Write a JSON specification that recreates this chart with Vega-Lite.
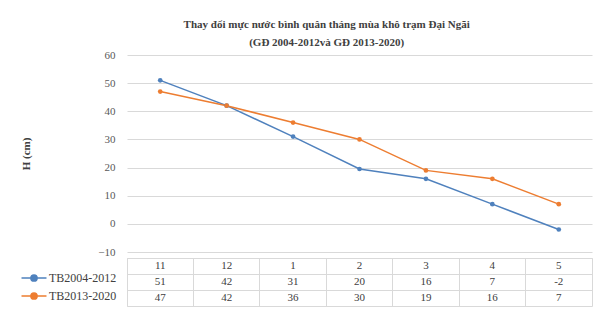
{
  "$schema": "https://vega.github.io/schema/vega-lite/v6.json",
  "background": "white",
  "padding": {"left": 20, "top": 19, "right": 8, "bottom": 5},
  "title": {
    "text": ["Thay đổi mực nước bình quân tháng mùa khô trạm Đại Ngãi", "(GĐ 2004-2012và GĐ 2013-2020)"],
    "font": "Liberation Serif",
    "fontSize": 11,
    "fontWeight": "bold",
    "color": "#404040",
    "anchor": "middle",
    "lineHeight": 18,
    "offset": 1,
    "dx": 20
  },
  "datasets": {
    "series": [
      {"month": "11", "series": "TB2004-2012", "value": 51},
      {"month": "12", "series": "TB2004-2012", "value": 42},
      {"month": "1", "series": "TB2004-2012", "value": 31},
      {"month": "2", "series": "TB2004-2012", "value": 19.5},
      {"month": "3", "series": "TB2004-2012", "value": 16},
      {"month": "4", "series": "TB2004-2012", "value": 7},
      {"month": "5", "series": "TB2004-2012", "value": -2},
      {"month": "11", "series": "TB2013-2020", "value": 47},
      {"month": "12", "series": "TB2013-2020", "value": 42},
      {"month": "1", "series": "TB2013-2020", "value": 36},
      {"month": "2", "series": "TB2013-2020", "value": 30},
      {"month": "3", "series": "TB2013-2020", "value": 19},
      {"month": "4", "series": "TB2013-2020", "value": 16},
      {"month": "5", "series": "TB2013-2020", "value": 7}
    ],
    "table": [
      {"month": "11", "row": "h", "label": "11"},
      {"month": "12", "row": "h", "label": "12"},
      {"month": "1", "row": "h", "label": "1"},
      {"month": "2", "row": "h", "label": "2"},
      {"month": "3", "row": "h", "label": "3"},
      {"month": "4", "row": "h", "label": "4"},
      {"month": "5", "row": "h", "label": "5"},
      {"month": "11", "row": "a", "label": "51"},
      {"month": "12", "row": "a", "label": "42"},
      {"month": "1", "row": "a", "label": "31"},
      {"month": "2", "row": "a", "label": "20"},
      {"month": "3", "row": "a", "label": "16"},
      {"month": "4", "row": "a", "label": "7"},
      {"month": "5", "row": "a", "label": "-2"},
      {"month": "11", "row": "b", "label": "47"},
      {"month": "12", "row": "b", "label": "42"},
      {"month": "1", "row": "b", "label": "36"},
      {"month": "2", "row": "b", "label": "30"},
      {"month": "3", "row": "b", "label": "19"},
      {"month": "4", "row": "b", "label": "16"},
      {"month": "5", "row": "b", "label": "7"}
    ]
  },
  "spacing": 0,
  "vconcat": [
    {
      "width": 465,
      "height": 197,
      "data": {"name": "series"},
      "view": {"stroke": null},
      "mark": {"type": "line", "strokeWidth": 1.5, "point": {"filled": true, "size": 22}},
      "encoding": {
        "x": {
          "field": "month", "type": "ordinal",
          "sort": ["11", "12", "1", "2", "3", "4", "5"],
          "scale": {"type": "point", "padding": 0.5},
          "axis": null
        },
        "y": {
          "field": "value", "type": "quantitative",
          "scale": {"domain": [-10, 60], "nice": false, "zero": false},
          "axis": {
            "values": [-10, 0, 10, 20, 30, 40, 50, 60],
            "title": "H (cm)",
            "titleFont": "Liberation Serif",
            "titleFontSize": 11,
            "titleFontWeight": "bold",
            "titleColor": "#404040",
            "titlePadding": 66,
            "labelFont": "Liberation Serif",
            "labelFontSize": 11,
            "labelColor": "#595959",
            "labelPadding": 12,
            "ticks": false,
            "domain": false,
            "grid": true,
            "gridColor": "#D9D9D9"
          }
        },
        "color": {
          "field": "series", "type": "nominal",
          "scale": {"domain": ["TB2004-2012", "TB2013-2020"], "range": ["#4F81BD", "#ED7D31"]},
          "legend": {
            "orient": "none",
            "legendX": -100,
            "legendY": 216,
            "title": null,
            "direction": "vertical",
            "symbolType": "M-2,0L2,0M-0.5,0a0.5,0.5 0 1,0 1,0a0.5,0.5 0 1,0 -1,0",
            "symbolSize": 156,
            "symbolStrokeWidth": 1.5,
            "labelOffset": 8,
            "labelFont": "Liberation Serif",
            "labelFontSize": 12,
            "labelColor": "#404040",
            "rowPadding": 4,
            "padding": 0,
            "encode": {
              "symbols": {
                "update": {
                  "fill": {"scale": "color", "field": "value"},
                  "stroke": {"scale": "color", "field": "value"}
                }
              }
            }
          }
        }
      }
    },
    {
      "width": 465,
      "height": 48,
      "data": {"name": "table"},
      "view": {"stroke": "#D9D9D9"},
      "mark": {"type": "text", "font": "Liberation Serif", "fontSize": 11, "color": "#404040"},
      "encoding": {
        "x": {
          "field": "month", "type": "ordinal",
          "sort": ["11", "12", "1", "2", "3", "4", "5"],
          "scale": {"type": "band", "paddingInner": 0, "paddingOuter": 0},
          "axis": {"title": null, "labels": false, "ticks": false, "domain": false, "grid": true, "bandPosition": 0, "gridColor": "#D9D9D9"}
        },
        "y": {
          "field": "row", "type": "nominal",
          "sort": ["h", "a", "b"],
          "scale": {"type": "band", "paddingInner": 0, "paddingOuter": 0},
          "axis": {"title": null, "labels": false, "ticks": false, "domain": false, "grid": true, "bandPosition": 0, "gridColor": "#D9D9D9"}
        },
        "text": {"field": "label"}
      }
    }
  ]
}
